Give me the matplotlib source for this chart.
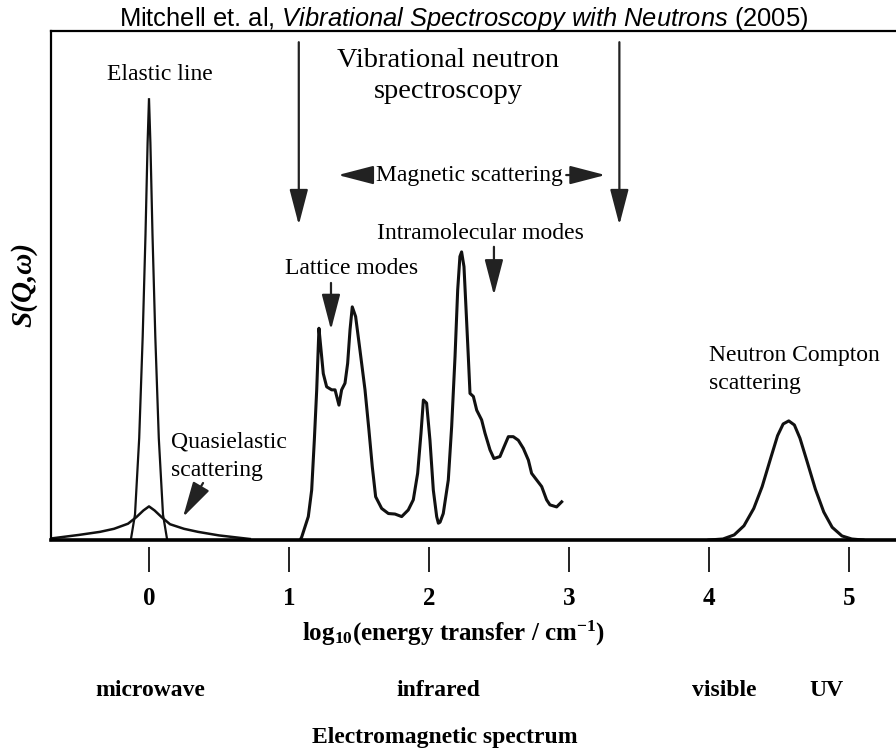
import matplotlib
matplotlib.use("Agg")
import matplotlib.pyplot as plt
import numpy as np

plt.rcParams['font.family'] = ['Liberation Serif', 'DejaVu Serif']
plt.rcParams['mathtext.default'] = 'regular'
plt.rcParams['mathtext.fontset'] = 'custom'
plt.rcParams['mathtext.it'] = 'Liberation Sans:italic'
plt.rcParams['mathtext.rm'] = 'Liberation Sans'

# ---------------- data ----------------
tick_values = [0, 1, 2, 3, 4, 5]
tick_labels = ['0', '1', '2', '3', '4', '5']

# elastic line (log10 energy transfer, S)
elastic_x = [-0.13, -0.10, -0.07, -0.045, -0.025, -0.01, 0.0, 0.01, 0.025, 0.045, 0.07, 0.10, 0.13]
elastic_y = [0.0, 0.05, 0.20, 0.40, 0.60, 0.78, 0.868, 0.78, 0.60, 0.40, 0.20, 0.05, 0.0]

# quasielastic scattering
quasi_x = [-0.70, -0.50, -0.35, -0.25, -0.15, -0.09, -0.04, 0.0, 0.04, 0.09, 0.15, 0.25, 0.35, 0.50, 0.72]
quasi_y = [0.003, 0.010, 0.016, 0.022, 0.032, 0.045, 0.058, 0.066, 0.058, 0.045, 0.031, 0.022, 0.016, 0.009, 0.002]

# vibrational spectrum
vib_x = [1.08, 1.091, 1.138, 1.162, 1.181, 1.198, 1.214, 1.229, 1.245, 1.269, 1.305, 1.329,
         1.357, 1.376, 1.40, 1.419, 1.436, 1.452, 1.476, 1.507, 1.543, 1.571, 1.595, 1.619,
         1.662, 1.71, 1.757, 1.805, 1.852, 1.888, 1.919, 1.943, 1.96, 1.983, 2.007, 2.031,
         2.055, 2.067, 2.079, 2.102, 2.138, 2.162, 2.186, 2.205, 2.221, 2.233, 2.25, 2.264,
         2.281, 2.293, 2.317, 2.341, 2.376, 2.40, 2.436, 2.464, 2.507, 2.536, 2.567, 2.602,
         2.638, 2.674, 2.71, 2.733, 2.769, 2.805, 2.84, 2.864, 2.912, 2.948]
vib_y = [0.0, 0.006, 0.046, 0.098, 0.196, 0.295, 0.416, 0.373, 0.327, 0.301, 0.295, 0.295,
         0.265, 0.295, 0.308, 0.347, 0.413, 0.458, 0.439, 0.373, 0.295, 0.216, 0.144, 0.085,
         0.062, 0.052, 0.051, 0.046, 0.059, 0.079, 0.131, 0.21, 0.275, 0.269, 0.196, 0.098,
         0.046, 0.033, 0.035, 0.052, 0.118, 0.223, 0.36, 0.491, 0.557, 0.566, 0.537, 0.458,
         0.36, 0.288, 0.282, 0.255, 0.236, 0.21, 0.177, 0.16, 0.164, 0.183, 0.203, 0.203,
         0.196, 0.18, 0.157, 0.131, 0.118, 0.105, 0.079, 0.069, 0.065, 0.075]

# neutron Compton scattering
compton_x = [4.0, 4.10, 4.18, 4.25, 4.32, 4.38, 4.44, 4.49, 4.53, 4.57, 4.61, 4.65, 4.70, 4.76, 4.82, 4.88, 4.95, 5.02, 5.10]
compton_y = [0.0, 0.002, 0.010, 0.028, 0.062, 0.105, 0.160, 0.205, 0.228, 0.234, 0.226, 0.200, 0.155, 0.100, 0.055, 0.025, 0.008, 0.002, 0.0]

# ---------------- figure ----------------
W, H = 896, 756
fig = plt.figure(figsize=(W / 100, H / 100), dpi=100)
ax = fig.add_axes([51 / W, (H - 540) / H, (W - 51) / W, (540 - 31) / H])
ax.set_xlim(-0.70, 5.336)
ax.set_ylim(0, 1)

ax.spines['right'].set_visible(False)
ax.spines['left'].set_linewidth(1.6)
ax.spines['top'].set_linewidth(1.6)
ax.spines['bottom'].set_linewidth(2.6)
ax.set_yticks([])

ax.set_xticks(tick_values)
ax.set_xticklabels(tick_labels, fontsize=18, fontweight='bold')
ax.tick_params(axis='x', length=0, pad=34)
ax.vlines(tick_values, -0.014, -0.063, transform=ax.get_xaxis_transform(),
          color='#222222', lw=1.4, clip_on=False)

lc = '#111111'
ax.plot(quasi_x, quasi_y, color=lc, lw=1.8, solid_joinstyle='round')
ax.plot(elastic_x, elastic_y, color=lc, lw=1.6, solid_joinstyle='miter')
ax.plot(vib_x, vib_y, color=lc, lw=2.2, solid_joinstyle='round')
ax.plot(compton_x, compton_y, color=lc, lw=2.2, solid_joinstyle='round')

fs = 17
arrow_kw = dict(arrowstyle='-|>,head_length=1.0,head_width=0.26', color='#222222', lw=1.6,
                mutation_scale=22, shrinkA=0, shrinkB=0)

# big arrows
for xa in [1.07, 3.36]:
    ax.annotate('', xy=(xa, 0.619), xytext=(xa, 0.978), arrowprops=arrow_kw)

ax.text(0.079, 0.914, 'Elastic line', ha='center', va='center', fontsize=fs)
ax.text(2.136, 0.912, 'Vibrational neutron\nspectroscopy', ha='center', va='center',
        fontsize=20.5, linespacing=1.3)

# magnetic scattering
ax.text(2.286, 0.717, 'Magnetic scattering', ha='center', va='center', fontsize=fs)
ax.annotate('', xy=(1.35, 0.717), xytext=(1.59, 0.717), arrowprops=arrow_kw)
ax.annotate('', xy=(3.26, 0.717), xytext=(2.98, 0.717), arrowprops=arrow_kw)

ax.text(1.45, 0.534, 'Lattice modes', ha='center', va='center', fontsize=fs)
ax.annotate('', xy=(1.30, 0.413), xytext=(1.30, 0.505), arrowprops=arrow_kw)

ax.text(2.364, 0.603, 'Intramolecular modes', ha='center', va='center', fontsize=fs)
ax.annotate('', xy=(2.464, 0.481), xytext=(2.464, 0.576), arrowprops=arrow_kw)

ax.text(0.157, 0.165, 'Quasielastic\nscattering', ha='left', va='center', fontsize=fs,
        linespacing=1.45)
ax.annotate('', xy=(0.243, 0.045), xytext=(0.386, 0.112), arrowprops=arrow_kw)

ax.text(4.0, 0.335, 'Neutron Compton\nscattering', ha='left', va='center', fontsize=fs,
        linespacing=1.45)

# figure texts
def ft(x, y, s, **kw):
    fig.text(x / W, 1 - y / H, s, ha='center', va='center', **kw)

ft(464, 19, 'Mitchell et. al, $\\it{Vibrational\\ Spectroscopy\\ with\\ Neutrons}$ (2005)',
   family=['Liberation Sans', 'DejaVu Sans'], fontsize=18.4)
ft(454, 633, 'log$_{10}$(energy transfer / cm$^{-1}$)', fontsize=18, fontweight='bold')
ft(150, 691, 'microwave', fontsize=17, fontweight='bold')
ft(438, 691, 'infrared', fontsize=17, fontweight='bold')
ft(724, 691, 'visible', fontsize=17, fontweight='bold')
ft(826, 691, 'UV', fontsize=17, fontweight='bold')
ft(445, 738, 'Electromagnetic spectrum', fontsize=17, fontweight='bold')
ft(24, 284, 'S(Q,ω)', fontsize=21, fontweight='bold', style='italic', rotation=90)

fig.savefig('out.png', dpi=100)
